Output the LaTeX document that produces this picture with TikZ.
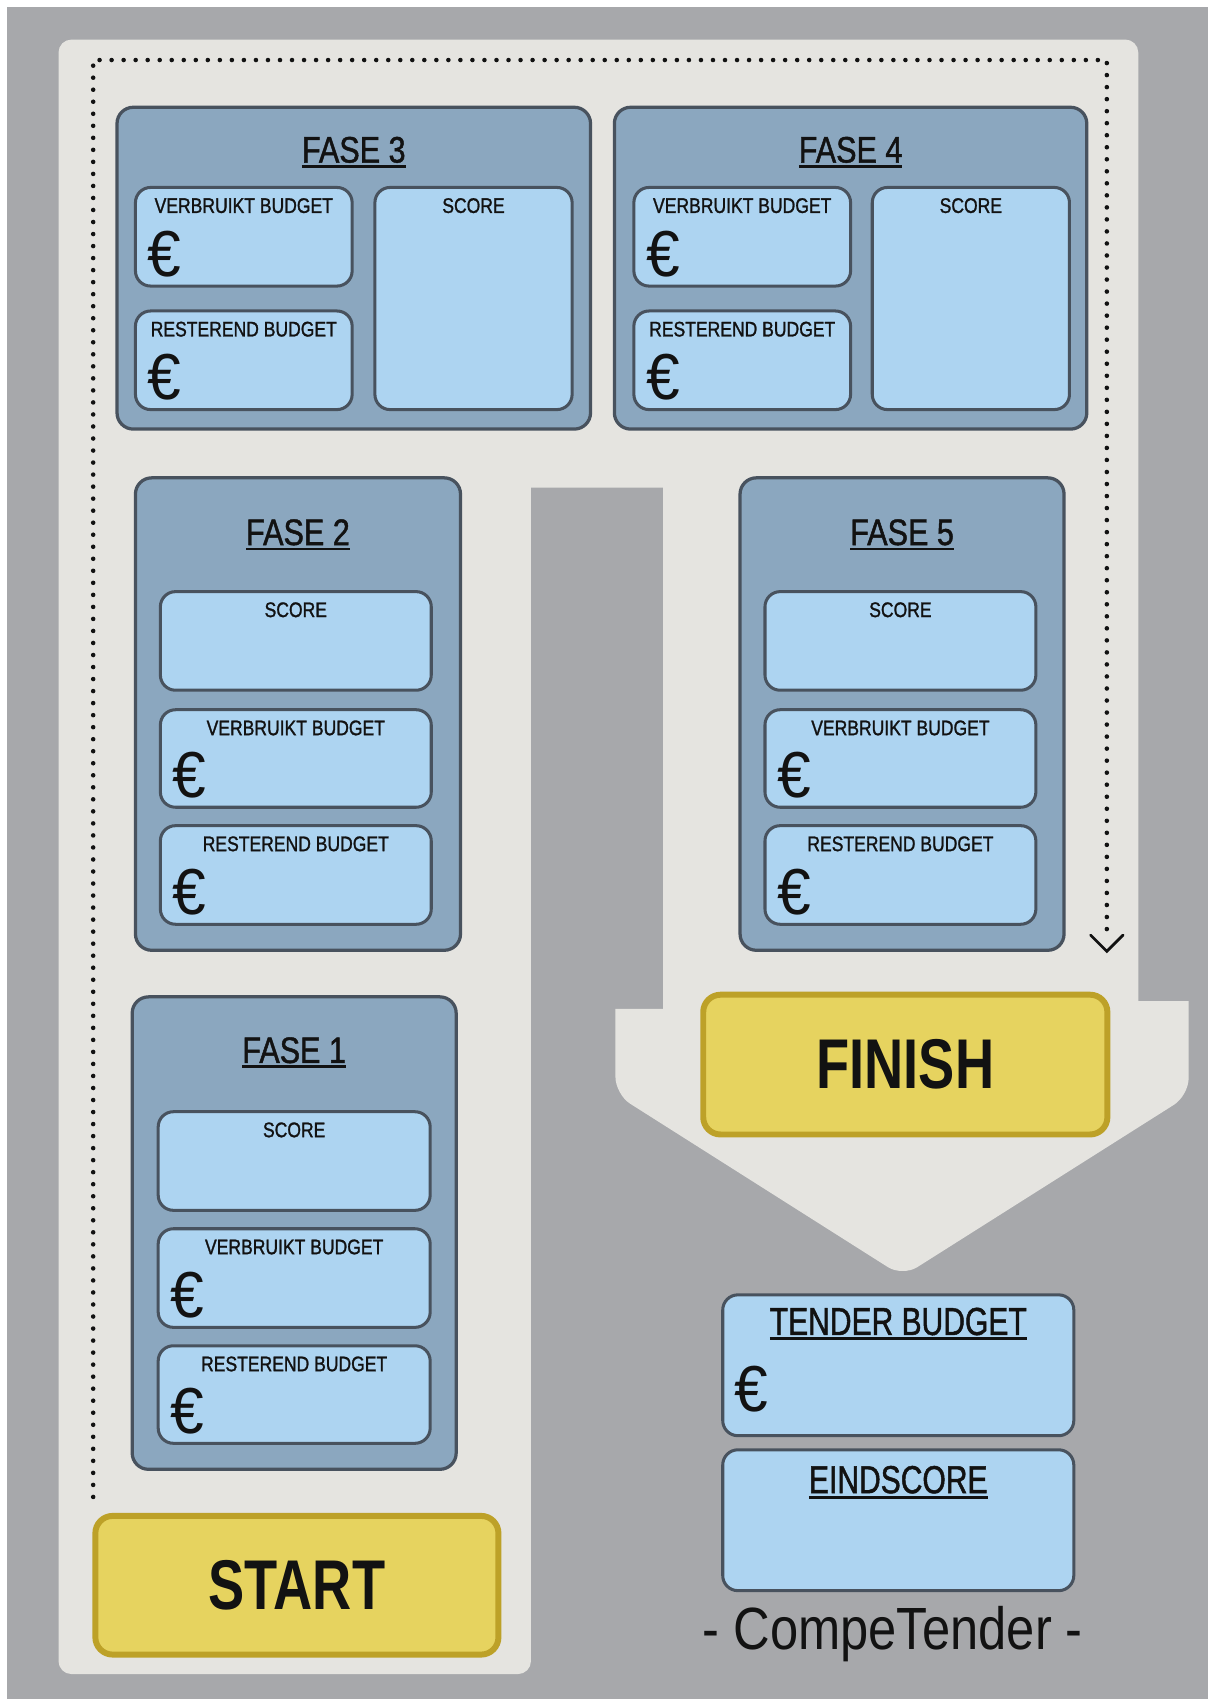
\documentclass[tikz,border=0pt]{standalone}
\usepackage{fontspec}
\setmainfont{Liberation Sans}
\newfontfamily\lblfont[FakeStretch=0.83,FakeBold=1.2]{Liberation Sans}
\newfontfamily\eurofont[FakeStretch=0.93]{Liberation Sans}
\newfontfamily\bigfont[FakeStretch=0.77]{Liberation Sans}
\newfontfamily\midfont[FakeStretch=0.77,FakeBold=1.2]{Liberation Sans}
\newfontfamily\brandfont[FakeStretch=0.85]{Liberation Sans}
\usetikzlibrary{calc}

\definecolor{bggray}{HTML}{A7A8AB}
\definecolor{panelfill}{HTML}{E5E4E0}
\definecolor{phasefill}{HTML}{8BA7BF}
\definecolor{cellfill}{HTML}{ADD4F1}
\definecolor{edge}{HTML}{48525E}
\definecolor{gold}{HTML}{E6D35F}
\definecolor{goldedge}{HTML}{BDA128}
\definecolor{ink}{HTML}{121212}

% underlined heading with a heavy rule
\newcommand\ulined[1]{\vtop{\hbox{#1}\kern2pt\hrule height 2.6pt depth 0pt}}

\tikzset{
  phase/.style={draw=edge, fill=phasefill, line width=3pt, rounded corners=15pt,
    inner sep=0pt, outer sep=0pt},
  cell/.style={draw=edge, fill=cellfill, line width=2.8pt, rounded corners=14pt,
    inner sep=0pt, outer sep=0pt},
  goal/.style={draw=goldedge, fill=gold, line width=5.5pt, rounded corners=16pt,
    inner sep=0pt, outer sep=0pt, text=ink, font=\fontsize{65}{66}\bigfont\bfseries},
  lbl/.style={inner sep=0pt, anchor=base, text=ink, font=\fontsize{19.5}{20}\lblfont},
  ttl/.style={inner sep=0pt, anchor=base, text=ink, font=\fontsize{34}{36}\lblfont},
  bigttl/.style={inner sep=0pt, anchor=base, text=ink, font=\fontsize{36}{38}\midfont},
  euro/.style={inner sep=0pt, anchor=base west, text=ink, font=\fontsize{60}{60}\eurofont},
  brand/.style={inner sep=0pt, anchor=base, text=ink, font=\fontsize{55}{56}\brandfont},
  dotline/.style={draw=ink, line width=4.2pt, line cap=round, dash pattern=on 0pt off 11.1pt},
  chev/.style={draw=ink, line width=2.6pt, line cap=round, line join=miter},
}

% box spanning (x1,y1)-(x2,y2): style, name, x1, y1, x2, y2
\newcommand\boxat[6]{%
  \node[#1, minimum width={(#5)-(#3)}, minimum height={(#6)-(#4)}] (#2)
    at ({((#3)+(#5))/2},{((#4)+(#6))/2}) {};}
% inner field with its caption: name, x1, y1, x2, y2, caption
\newcommand\cellbox[6]{%
  \boxat{cell}{#1}{#2}{#3}{#4}{#5}%
  \node[lbl] (#1-lbl) at ($(#1.north)+(0,23.5)$) {#6};}
% euro sign in the lower left of a field
\newcommand\eurosign[1]{%
  \node[euro] (#1-eur) at ($(#1.south west)+(11,-9)$) {€};}

\begin{document}
\begin{tikzpicture}[x=1pt, y=-1pt]
  \useasboundingbox (0,0) rectangle (1115,1568);
  \fill[white] (0,0) rectangle (1115,1568);
  \fill[bggray] (6.2,6.2) rectangle (1115,1568);

  % light track: left column, top band, right column and arrow head, one outline
  % (a corner takes the rounding in force for the segment that ends in it)
  \fill[panelfill] (54,800)
    [rounded corners=12pt] -- (54,36.5) -- (1050.5,36.5)
    [sharp corners] -- (1050.5,924) -- (1097,924)
    [rounded corners=16pt] -- (1097,1011) -- (833,1178) -- (568,1010)
    [sharp corners] -- (568,931) -- (612,931) -- (612,450) -- (490,450)
    [rounded corners=12pt] -- (490,1545) -- (54,1545) -- cycle;

  % dotted route from start to finish
  \coordinate (dstart) at (86,1381.5);
  \coordinate (dend) at (1021.5,868);
  \coordinate (dtip) at (1021.5,878);
  \draw[dotline] (dstart) -- (86,55.4) -- (1021.5,55.4) -- (dend);
  \draw[chev] ($(dtip)+(-15,-15)$) -- (dtip) -- ($(dtip)+(15,-15)$);

  % phase 3
  \boxat{phase}{f3}{108}{99}{545}{396}
  \node[ttl] (f3-t) at ($(f3.north)+(0,51)$) {\ulined{FASE 3}};
  \cellbox{f3v}{125}{173}{325}{264}{VERBRUIKT BUDGET}\eurosign{f3v}
  \cellbox{f3r}{125}{287}{325}{378}{RESTEREND BUDGET}\eurosign{f3r}
  \cellbox{f3s}{346}{173}{528}{378}{SCORE}

  % phase 4
  \boxat{phase}{f4}{567}{99}{1003}{396}
  \node[ttl] (f4-t) at ($(f4.north)+(0,51)$) {\ulined{FASE 4}};
  \cellbox{f4v}{585}{173}{785}{264}{VERBRUIKT BUDGET}\eurosign{f4v}
  \cellbox{f4r}{585}{287}{785}{378}{RESTEREND BUDGET}\eurosign{f4r}
  \cellbox{f4s}{805}{173}{987}{378}{SCORE}

  % phase 2
  \boxat{phase}{f2}{125}{441}{425}{877}
  \node[ttl] (f2-t) at ($(f2.north)+(0,62)$) {\ulined{FASE 2}};
  \cellbox{f2s}{148}{546}{398}{637}{SCORE}
  \cellbox{f2v}{148}{655}{398}{745}{VERBRUIKT BUDGET}\eurosign{f2v}
  \cellbox{f2r}{148}{762}{398}{853}{RESTEREND BUDGET}\eurosign{f2r}

  % phase 5
  \boxat{phase}{f5}{683}{441}{982}{877}
  \node[ttl] (f5-t) at ($(f5.north)+(0,62)$) {\ulined{FASE 5}};
  \cellbox{f5s}{706}{546}{956}{637}{SCORE}
  \cellbox{f5v}{706}{655}{956}{745}{VERBRUIKT BUDGET}\eurosign{f5v}
  \cellbox{f5r}{706}{762}{956}{853}{RESTEREND BUDGET}\eurosign{f5r}

  % phase 1
  \boxat{phase}{f1}{122}{920}{421}{1356}
  \node[ttl] (f1-t) at ($(f1.north)+(0,61)$) {\ulined{FASE 1}};
  \cellbox{f1s}{146}{1026}{397}{1117}{SCORE}
  \cellbox{f1v}{146}{1134}{397}{1225}{VERBRUIKT BUDGET}\eurosign{f1v}
  \cellbox{f1r}{146}{1242}{397}{1332}{RESTEREND BUDGET}\eurosign{f1r}

  % start and finish
  \node[goal, minimum width=372, minimum height=128] (start) at (274,1463) {START};
  \node[goal, minimum width=373, minimum height=129] (finish) at (835.5,982.5) {FINISH};

  % totals
  \boxat{cell}{tb}{667}{1195}{991}{1325}
  \node[bigttl] (tb-t) at ($(tb.north)+(0,37)$) {\ulined{TENDER BUDGET}};
  \node[euro] (tb-eur) at ($(tb.south west)+(11,-22)$) {€};
  \boxat{cell}{es}{667}{1338}{991}{1468}
  \node[bigttl] (es-t) at ($(es.north)+(0,40)$) {\ulined{EINDSCORE}};

  \node[brand] (brand) at (824,1522) {- CompeTender -};
\end{tikzpicture}
\end{document}
